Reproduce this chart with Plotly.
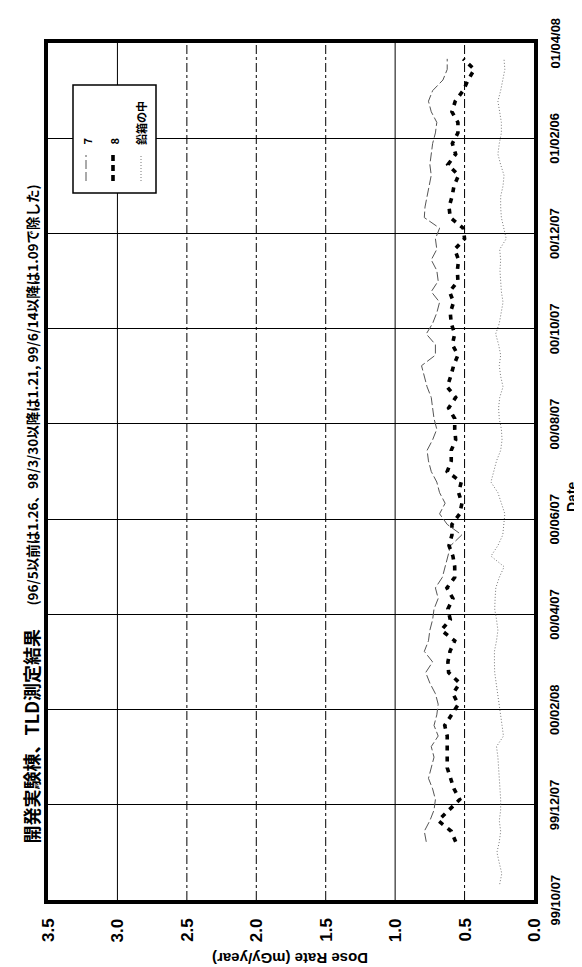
import plotly.graph_objects as go

# ---------------- data ----------------
date_labels = ["99/10/07", "99/12/07", "00/02/08", "00/04/07", "00/06/07",
               "00/08/07", "00/10/07", "00/12/07", "01/02/06", "01/04/08"]
label_every = 9          # a date label every 9 measurements
n_categories = 81

dose_ticks = [0.0, 0.5, 1.0, 1.5, 2.0, 2.5, 3.0, 3.5]
dose_ticktext = ["0.0", "0.5", "1.0", "1.5", "2.0", "2.5", "3.0", "3.5"]

series_names = ["7", "8", "鉛箱の中"]

s7_start = 5
s7 = [0.776, 0.79, 0.75, 0.72, 0.71, 0.73, 0.76, 0.74, 0.72, 0.74,
      0.69, 0.72, 0.70, 0.69, 0.71, 0.75, 0.78, 0.73, 0.79, 0.76,
      0.75, 0.73, 0.72, 0.69, 0.71, 0.66, 0.64, 0.62, 0.60, 0.52,
      0.625, 0.68, 0.64, 0.68, 0.70, 0.74, 0.76, 0.77, 0.73, 0.70,
      0.72, 0.73, 0.74, 0.77, 0.79, 0.81, 0.71, 0.71, 0.776, 0.73,
      0.70, 0.68, 0.74, 0.69, 0.70, 0.74, 0.70, 0.71, 0.68, 0.79,
      0.785, 0.77, 0.76, 0.74, 0.75, 0.74, 0.73, 0.71, 0.70, 0.74,
      0.76, 0.73, 0.656, 0.625, 0.625]

s8_start = 5
s8 = [0.564, 0.596, 0.69, 0.615, 0.535, 0.576, 0.603, 0.625, 0.625, 0.625,
      0.625, 0.643, 0.596, 0.545, 0.584, 0.535, 0.615, 0.62, 0.605, 0.571,
      0.668, 0.603, 0.62, 0.584, 0.627, 0.571, 0.571, 0.584, 0.612, 0.591,
      0.591, 0.535, 0.519, 0.543, 0.524, 0.625, 0.596, 0.596, 0.564, 0.571,
      0.571, 0.615, 0.564, 0.625, 0.60, 0.579, 0.548, 0.588, 0.571, 0.596,
      0.603, 0.579, 0.608, 0.548, 0.552, 0.543, 0.571, 0.50, 0.51, 0.603,
      0.612, 0.59, 0.576, 0.543, 0.62, 0.564, 0.588, 0.548, 0.548, 0.591,
      0.567, 0.51, 0.475, 0.43, 0.51]

lead_start = 1
lead = [0.247, 0.232, 0.25, 0.267, 0.25, 0.24, 0.25, 0.24, 0.24, 0.245,
        0.25, 0.25, 0.26, 0.27, 0.22, 0.23, 0.24, 0.25, 0.26, 0.275,
        0.283, 0.285, 0.285, 0.27, 0.26, 0.27, 0.283, 0.28, 0.275, 0.25,
        0.215, 0.31, 0.26, 0.225, 0.22, 0.21, 0.235, 0.26, 0.31, 0.29,
        0.27, 0.24, 0.23, 0.235, 0.25, 0.255, 0.247, 0.223, 0.24, 0.25,
        0.24, 0.255, 0.276, 0.25, 0.235, 0.223, 0.235, 0.24, 0.245, 0.24,
        0.247, 0.2, 0.216, 0.235, 0.24, 0.24, 0.223, 0.216, 0.24, 0.26,
        0.25, 0.235, 0.235, 0.245, 0.26, 0.24, 0.223, 0.21, 0.216]

title_main = "開発実験棟、TLD測定結果"
title_note = "(96/5以前は1.26、98/3/30以降は1.21, 99/6/14以降は1.09で除した)"
x_title = "Dose Rate (mGy/year)"
y_title = "Date"

# ---------------- layout geometry ----------------
W, H = 582, 967
L, R, T, B = 40, 526, 35, 892


def px(x):
    return (x - L) / (R - L)


def py(y):
    return (B - y) / (B - T)


FONT = "Liberation Sans, Arial, sans-serif"
CJK = "Noto Sans CJK JP, sans-serif"

fig = go.Figure()

fig.add_trace(go.Scatter(
    x=s7, y=list(range(s7_start, s7_start + len(s7))), mode="lines",
    name=series_names[0], line=dict(color="#555555", width=1, dash="9px,3px")))
fig.add_trace(go.Scatter(
    x=s8, y=list(range(s8_start, s8_start + len(s8))), mode="lines",
    name=series_names[1], line=dict(color="black", width=3.6, dash="5px,6px")))
fig.add_trace(go.Scatter(
    x=lead, y=list(range(lead_start, lead_start + len(lead))), mode="lines",
    name=series_names[2], line=dict(color="#777777", width=1, dash="1px,2px")))

tick_pos = [-0.5 + label_every * k for k in range(len(date_labels))]

shapes = []
grid_style = {0.5: "dashdot", 1.0: "solid", 1.5: "dashdot", 2.0: "dashdot",
              2.5: "dashdot", 3.0: "solid"}
for v, d in grid_style.items():
    shapes.append(dict(type="line", xref="x", yref="paper", x0=v, x1=v, y0=0, y1=1,
                       line=dict(color="black", width=1, dash=d), layer="below"))

# legend box (drawn by hand, rotated like the chart)
lx0, lx1, ly0, ly1 = 65, 148, 77, 185
shapes.append(dict(type="rect", xref="paper", yref="paper",
                   x0=px(lx0), x1=px(lx1), y0=py(ly1), y1=py(ly0),
                   line=dict(color="black", width=1.5), fillcolor="white"))
leg_x = [78, 105, 133]
leg_styles = [dict(color="#555555", width=1, dash="9px,3px"),
              dict(color="black", width=3.6, dash="6px,4px"),
              dict(color="#777777", width=1, dash="1px,2px")]
for xx, st in zip(leg_x, leg_styles):
    shapes.append(dict(type="line", xref="paper", yref="paper",
                       x0=px(xx), x1=px(xx), y0=py(173), y1=py(147), line=st))

annotations = []
for xx, name in zip(leg_x, series_names):
    annotations.append(dict(xref="paper", yref="paper", x=px(xx), y=py(139),
                            text=name, showarrow=False, textangle=-90,
                            xanchor="center", yanchor="bottom",
                            font=dict(family=CJK, size=11, color="black", weight="bold")))

# tick labels placed through the axes' own scales
for v, t in zip(dose_ticks, dose_ticktext):
    annotations.append(dict(xref="x", yref="paper", x=v, y=py(922), text=t,
                            showarrow=False, textangle=-90,
                            xanchor="center", yanchor="middle",
                            font=dict(family=FONT, size=17, color="black", weight="bold")))
for p, t in zip(tick_pos, date_labels):
    annotations.append(dict(xref="paper", yref="y", x=px(546.5), y=p, text=t,
                            showarrow=False, textangle=-90,
                            xanchor="center", yanchor="middle",
                            font=dict(family=FONT, size=13, color="black", weight="bold")))

annotations.append(dict(xref="paper", yref="paper", x=px(22), y=py(838),
                        text=title_main, showarrow=False, textangle=-90,
                        xanchor="center", yanchor="bottom",
                        font=dict(family=CJK, size=18, color="black", weight="bold")))
annotations.append(dict(xref="paper", yref="paper", x=px(23), y=py(600),
                        text=title_note, showarrow=False, textangle=-90,
                        xanchor="center", yanchor="bottom",
                        font=dict(family=CJK, size=13.5, color="black", weight="bold")))
annotations.append(dict(xref="paper", yref="paper", x=px(282), y=py(951),
                        text=x_title, showarrow=False, textangle=180,
                        xanchor="center", yanchor="middle",
                        font=dict(family=FONT, size=15, color="black", weight="bold")))
annotations.append(dict(xref="paper", yref="paper", x=px(564), y=py(489),
                        text=y_title, showarrow=False, textangle=-90,
                        xanchor="center", yanchor="middle",
                        font=dict(family=FONT, size=14, color="black", weight="bold")))

fig.update_layout(
    width=W, height=H,
    margin=dict(l=L, r=W - R, t=T, b=H - B),
    paper_bgcolor="white", plot_bgcolor="white",
    showlegend=False,
    shapes=shapes, annotations=annotations,
    xaxis=dict(range=[3.5, 0], tickvals=dose_ticks, showticklabels=False,
               showgrid=False, zeroline=False,
               showline=True, linewidth=4, linecolor="black", mirror=True,
               ticks=""),
    yaxis=dict(range=[-0.5001, n_categories - 0.4999], tickvals=tick_pos,
               showticklabels=False,
               showgrid=True, gridcolor="black", gridwidth=1, zeroline=False,
               showline=True, linewidth=4, linecolor="black", mirror=True,
               ticks=""),
)

fig.write_html("out.html")
